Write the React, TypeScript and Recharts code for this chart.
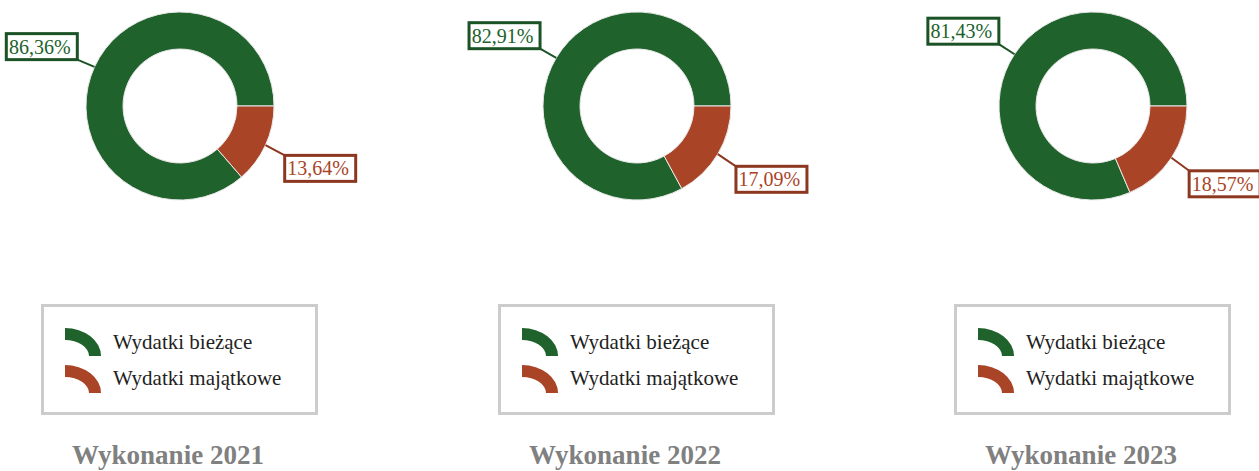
import React from 'react';
import { PieChart, Pie, Cell, Legend } from 'recharts';

const categories = ['Wydatki bieżące', 'Wydatki majątkowe'];
const years = ['2021', '2022', '2023'];
const values2021 = [86.36, 13.64];
const values2022 = [82.91, 17.09];
const values2023 = [81.43, 18.57];
const seriesValues = [values2021, values2022, values2023];
const sliceColors = ['#20622c', '#a94427'];
const borderColors = ['#1b5326', '#8c3820'];
const chartLefts = [0, 457, 913];
const chartWidths = [440, 440, 346];

const FONT = '"Liberation Serif", "Times New Roman", serif';
const RAD = Math.PI / 180;

const fmt = (v: number) => v.toFixed(2).replace('.', ',') + '%';

const renderLabel = (props: any) => {
  const { cx, cy, midAngle, outerRadius, index, value } = props;
  const cos = Math.cos(-midAngle * RAD);
  const sin = Math.sin(-midAngle * RAD);
  const sx = cx + outerRadius * cos;
  const sy = cy + outerRadius * sin;
  const ex = cx + (outerRadius + 20) * cos;
  const ey = cy + (outerRadius + 20) * sin;
  const w = 71;
  const h = 26;
  const bx = cos >= 0 ? ex + 1 : ex - w + 1;
  const by = sin >= 0 ? ey + 2 : ey - h + 1;
  const bc = borderColors[index];
  return (
    <g>
      <line x1={sx} y1={sy} x2={cos >= 0 ? bx : bx + w} y2={sin >= 0 ? by : by + h} stroke={bc} strokeWidth={2} />
      <rect x={bx} y={by} width={w} height={h} fill="#ffffff" stroke={bc} strokeWidth={3} />
      <text x={bx + w / 2 - 2} y={by + 20} textAnchor="middle" fontFamily={FONT} fontSize={20} fill={sliceColors[index]}>
        {fmt(value)}
      </text>
    </g>
  );
};

const LegendIcon = ({ color }: { color: string }) => (
  <svg width={37} height={29} style={{ position: 'absolute', left: 0, top: 0 }}>
    <path d="M0,0 A36,28 0 0 1 36,28 L24,28 A24,16 0 0 0 0,12 Z" fill={color} />
  </svg>
);

const renderLegend = (props: any) => {
  const payload = props.payload || [];
  return (
    <div
      style={{
        position: 'relative',
        width: 277,
        height: 111,
        boxSizing: 'border-box',
        border: '3px solid #cccccc',
        background: '#fff',
        fontFamily: FONT,
      }}
    >
      {payload.map((entry: any, i: number) => (
        <div key={i}>
          <div style={{ position: 'absolute', left: 21, top: 21 + i * 37, width: 37, height: 29 }}>
            <LegendIcon color={entry.color} />
          </div>
          <div
            style={{
              position: 'absolute',
              left: 69,
              top: 23 + i * 36,
              fontSize: 21,
              lineHeight: '25px',
              color: '#222222',
              whiteSpace: 'nowrap',
            }}
          >
            {entry.value}
          </div>
        </div>
      ))}
    </div>
  );
};

export default function App() {
  return (
    <div style={{ position: 'fixed', left: 0, top: 0, width: 1259, height: 471, overflow: 'hidden', background: '#fff' }}>
      {years.map((year, ci) => {
        const data = categories.map((name, i) => ({ name, value: seriesValues[ci][i] }));
        const w = chartWidths[ci];
        return (
          <div key={year} style={{ position: 'absolute', left: chartLefts[ci], top: 0, width: w, height: 471 }}>
            <PieChart width={w} height={471} margin={{ top: 0, right: 0, bottom: 0, left: 0 }}>
              <Pie
                data={data}
                dataKey="value"
                nameKey="name"
                cx={180}
                cy={106}
                innerRadius={57}
                outerRadius={94}
                startAngle={0}
                endAngle={360}
                stroke="#e8e8e8"
                strokeWidth={1}
                label={renderLabel}
                labelLine={false}
                isAnimationActive={false}
              >
                {data.map((d, i) => (
                  <Cell key={d.name} fill={sliceColors[i]} />
                ))}
              </Pie>
              <Legend
                content={renderLegend}
                wrapperStyle={{ position: 'absolute', left: 41, top: 304, width: 277, height: 111, bottom: 'auto' }}
              />
            </PieChart>
            <div
              style={{
                position: 'absolute',
                left: 18,
                top: 440,
                width: 300,
                textAlign: 'center',
                fontFamily: FONT,
                fontWeight: 'bold',
                fontSize: 27,
                lineHeight: '31px',
                color: '#808080',
                whiteSpace: 'nowrap',
              }}
            >
              {'Wykonanie ' + year}
            </div>
          </div>
        );
      })}
    </div>
  );
}
